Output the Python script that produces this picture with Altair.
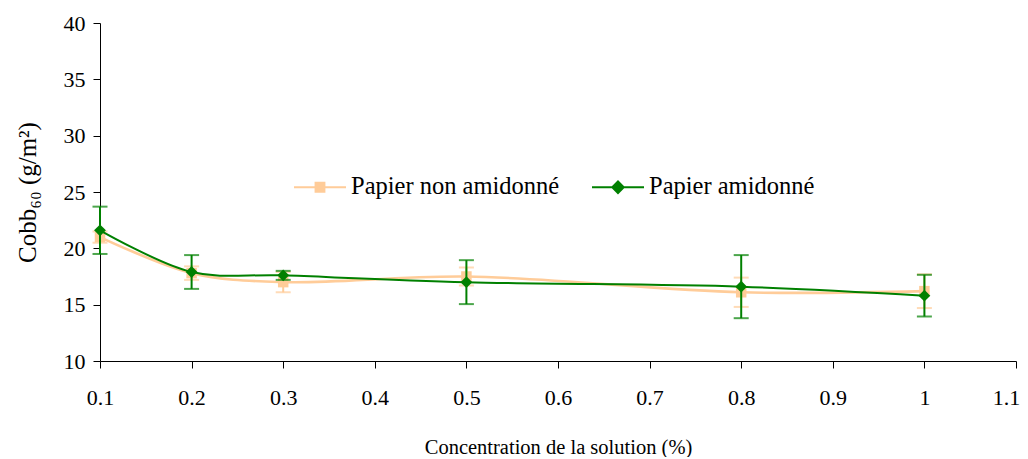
import altair as alt
import pandas as pd

# ---- data ----
conc = [0.1, 0.2, 0.3, 0.5, 0.8, 1.0]
non_amid = [21.0, 17.8, 17.0, 17.5, 16.1, 16.2]
non_amid_err = [0.5, 0.6, 0.9, 0.8, 1.3, 1.5]
amid = [21.6, 17.9, 17.6, 17.0, 16.6, 15.8]
amid_err = [2.1, 1.5, 0.4, 1.95, 2.8, 1.85]

series_names = ["Papier non amidonné", "Papier amidonné"]
series_colors = ["#FFCC99", "#008000"]
x_ticks = [0.1, 0.2, 0.3, 0.4, 0.5, 0.6, 0.7, 0.8, 0.9, 1.0, 1.1]
y_ticks = [10, 15, 20, 25, 30, 35, 40]

FONT = "Liberation Serif"
X_TITLE = "Concentration de la solution (%)"
Y_TITLE = "Cobb₆₀ (g/m²)"


def make_df(vals, errs, name):
    return pd.DataFrame({
        "conc": conc,
        "val": vals,
        "lo": [v - e for v, e in zip(vals, errs)],
        "hi": [v + e for v, e in zip(vals, errs)],
        "series": name,
    })


df_na = make_df(non_amid, non_amid_err, series_names[0])
df_a = make_df(amid, amid_err, series_names[1])
df_all = pd.concat([df_na, df_a], ignore_index=True)

xscale = alt.Scale(domain=[0.1, 1.1], nice=False, zero=False)
yscale = alt.Scale(domain=[10, 40], nice=False, zero=False)
xaxis = alt.Axis(values=x_ticks, format="~g", title=X_TITLE, labelPadding=19,
                 titlePadding=29, labelFlush=False, labelFontSize=22, titleFontSize=20.5,
                 labelOffset={"condition": {"test": "datum.value > 1.05", "value": -10},
                              "value": 0})
yaxis = alt.Axis(values=y_ticks, title=Y_TITLE, labelPadding=8, titlePadding=23,
                 labelFontSize=22, titleFontSize=25)


def X():
    return alt.X("conc:Q", scale=xscale, axis=xaxis)


def Y(field):
    return alt.Y(f"{field}:Q", scale=yscale, axis=yaxis)


def series_layers(df, color, shape, msize, lwidth):
    base = alt.Chart(df)
    line = base.mark_line(color=color, strokeWidth=lwidth, interpolate="catmull-rom").encode(
        x=X(), y=Y("val"))
    err = base.mark_errorbar(ticks=True, size=15, thickness=2, color=color).encode(
        x=X(), y=Y("lo"), y2="hi:Q")
    pts = base.mark_point(shape=shape, filled=True, size=msize, color=color, opacity=1).encode(
        x=X(), y=Y("val"))
    return [line, err, pts]


# legend-only layer (invisible marks), symbol = line stub + marker
shape_paths = [
    "M-1,0H1M-0.17,-0.17H0.17V0.17H-0.17Z",
    "M-1,0H1M0,-0.22L0.22,0L0,0.22L-0.22,0Z",
]
df_leg = df_all[df_all["conc"] == 0.1]
legend = alt.Legend(title=None, orient="none", legendX=193, legendY=137,
                    direction="horizontal", symbolSize=2704, symbolStrokeWidth=2,
                    symbolOpacity=1, labelFont=FONT, labelFontSize=24.5,
                    labelColor="black", columnPadding=28, labelOffset=4, padding=0,
                    labelLimit=0)
leg_layer = alt.Chart(df_leg).mark_point(filled=True, opacity=0, size=10).encode(
    x=X(), y=Y("val"),
    fill=alt.Fill("series:N", scale=alt.Scale(domain=series_names, range=series_colors),
                  legend=legend),
    stroke=alt.Stroke("series:N", scale=alt.Scale(domain=series_names, range=series_colors),
                      legend=legend),
    shape=alt.Shape("series:N", scale=alt.Scale(domain=series_names, range=shape_paths),
                    legend=legend),
)

layers = (series_layers(df_na, series_colors[0], "square", 110, 2.6)
          + series_layers(df_a, series_colors[1], "diamond", 140, 2)
          + [leg_layer])

chart = alt.layer(*layers).properties(
    width=916, height=338,
    autosize=alt.AutoSizeParams(type="none"),
    padding={"left": 92, "top": 15, "right": 4, "bottom": 96},
).configure_view(stroke=None).configure_axis(
    grid=False, domainColor="black", tickColor="black", tickSize=7,
    labelFont=FONT, labelColor="black",
    titleFont=FONT, titleFontWeight="normal", titleColor="black",
)

chart.save("out.html", embed_options={"renderer": "svg", "actions": False})
